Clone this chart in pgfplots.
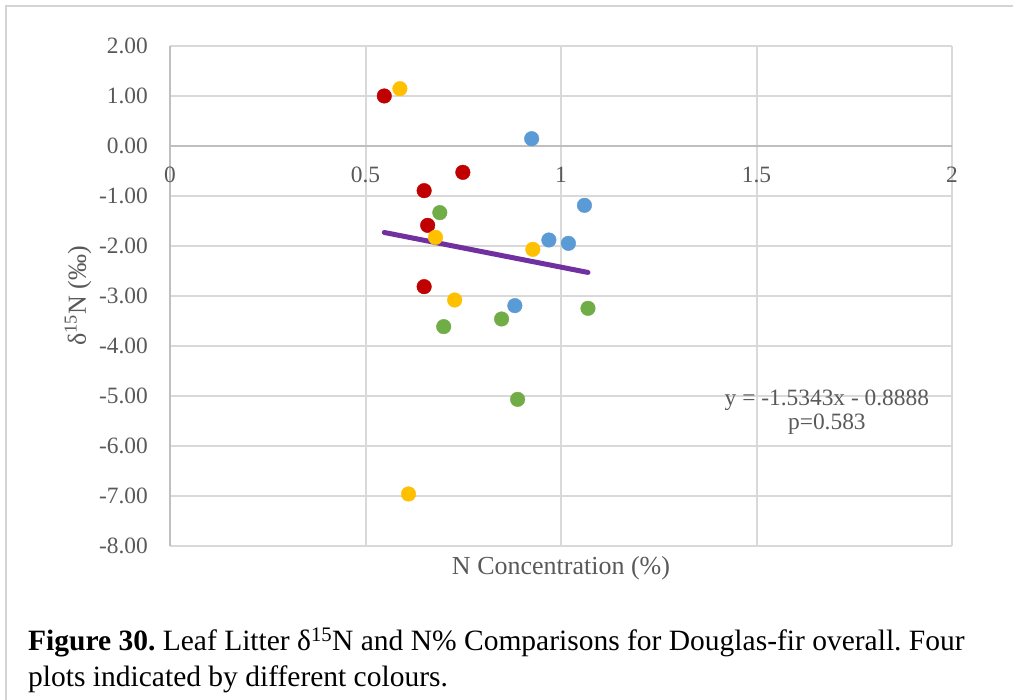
\documentclass[border=0pt]{standalone}
\usepackage{pgfplots}
\pgfplotsset{compat=1.18}
\usepackage{fontspec}
\setmainfont{Liberation Serif}
\frenchspacing

\definecolor{txt}{HTML}{595959}
\definecolor{gridgray}{HTML}{D9D9D9}
\definecolor{axisgray}{HTML}{BFBFBF}
\definecolor{framegray}{HTML}{D4D4D4}
\definecolor{plotred}{HTML}{C00000}
\definecolor{plotyellow}{HTML}{FFC000}
\definecolor{plotblue}{HTML}{5B9BD5}
\definecolor{plotgreen}{HTML}{70AD47}
\definecolor{trendpurple}{HTML}{7030A0}

\begin{document}
\begin{tikzpicture}
\path[use as bounding box] (0pt,0pt) rectangle (1013pt,700pt);
% chart frame
\draw[framegray, line width=2pt] (6pt,-4pt) -- (6pt,694pt) -- (1017pt,694pt);

\begin{axis}[
  at={(170pt,154pt)}, anchor=south west,
  scale only axis, width=782pt, height=500pt,
  xmin=0, xmax=2, ymin=-8, ymax=2,
  enlargelimits=false,
  axis x line=middle, axis y line=left,
  axis line style={-, draw=axisgray, line width=2pt},
  hide obscured x ticks=false,
  xtick={0,0.5,1,1.5,2},
  xticklabels={0,0.5,1,1.5,2},
  ytick={-8,-7,-6,-5,-4,-3,-2,-1,0,1,2},
  yticklabels={-8.00,-7.00,-6.00,-5.00,-4.00,-3.00,-2.00,-1.00,0.00,1.00,2.00},
  major tick length=0pt,
  grid=major,
  major grid style={draw=gridgray, line width=2pt},
  tick label style={font=\fontsize{23.4}{28}\selectfont, text=txt},
  xticklabel style={inner sep=0pt, anchor=north, yshift=-21pt},
  yticklabel style={inner sep=0pt, anchor=east, xshift=-22pt},
  clip=false,
  every axis plot/.append style={mark size=7.3pt},
]
% plot 1
\addplot[only marks, mark=*, color=plotred] coordinates {
  (0.548,1.000) (0.749,-0.527) (0.650,-0.893) (0.659,-1.587) (0.650,-2.813)};
% plot 2
\addplot[only marks, mark=*, color=plotyellow] coordinates {
  (0.588,1.146) (0.679,-1.827) (0.928,-2.067) (0.728,-3.080) (0.610,-6.960)};
% plot 3
\addplot[only marks, mark=*, color=plotblue] coordinates {
  (0.925,0.146) (1.060,-1.187) (0.969,-1.880) (1.019,-1.947) (0.882,-3.193)};
% plot 4
\addplot[only marks, mark=*, color=plotgreen] coordinates {
  (0.690,-1.333) (0.848,-3.460) (0.700,-3.613) (1.069,-3.247) (0.889,-5.067)};
% linear trend y = -1.5343x - 0.8888 over the range of the data
\addplot[no marks, draw=trendpurple, line width=5pt, line cap=round] coordinates {
  (0.548,-1.7296) (1.069,-2.5290)};
\node[align=center, text=txt, font=\fontsize{23.4}{23.5}\selectfont]
  at (axis cs:1.680,-5.32) {y = -1.5343x - 0.8888\\p=0.583};
\end{axis}

% axis titles
\node[text=txt, font=\fontsize{26}{30}\selectfont] at (561pt,132pt) {N Concentration (\%)};
\node[text=txt, rotate=90, font=\fontsize{26}{30}\selectfont] at (78pt,404pt) {δ\textsuperscript{15}N (‰)};

% caption
\node[anchor=base west, inner sep=0pt, font=\fontsize{29.5}{36}\selectfont] at (28pt,49pt)
  {\textbf{Figure 30.} Leaf Litter δ\textsuperscript{15}N and N\% Comparisons for Douglas-fir overall. Four};
\node[anchor=base west, inner sep=0pt, font=\fontsize{29.5}{36}\selectfont] at (28pt,13pt)
  {plots indicated by different colours.};
\end{tikzpicture}
\end{document}
